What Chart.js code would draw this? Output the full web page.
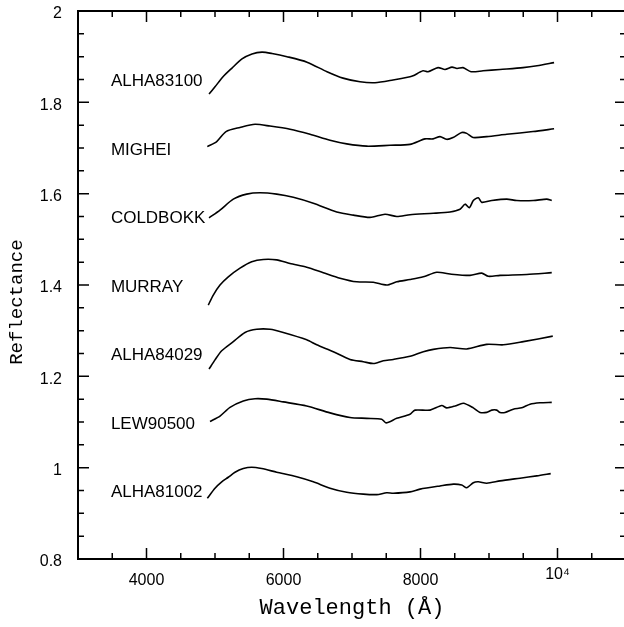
<!DOCTYPE html>
<html>
<head>
<meta charset="utf-8">
<script src="https://cdn.jsdelivr.net/npm/chart.js@4.4.0/dist/chart.umd.min.js"></script>
<style>
    html, body { margin: 0; padding: 0; overflow: hidden; background: #fff; }
    canvas { display: block; }
</style>
</head>
<body>
<canvas id="spectra" width="630" height="627"></canvas>
<script>
// --- DATA ---
const meteorites = ['ALHA83100', 'MIGHEI', 'COLDBOKK', 'MURRAY', 'ALHA84029', 'LEW90500', 'ALHA81002'];
const labelRefl = [1.845, 1.695, 1.545, 1.395, 1.245, 1.095, 0.945];

const alha83100Wave = [4913, 5000, 5117, 5248, 5394, 5540, 5686, 5832, 6051, 6343, 6635, 6869, 7117, 7336, 7599, 7847, 7891, 8037, 8110, 8256, 8358, 8460, 8533, 8621, 8738, 8913, 9161, 9497, 9701, 9950];
const alha83100Refl = [1.818, 1.834, 1.856, 1.875, 1.895, 1.906, 1.910, 1.907, 1.900, 1.888, 1.867, 1.853, 1.845, 1.843, 1.849, 1.856, 1.858, 1.869, 1.867, 1.876, 1.872, 1.877, 1.874, 1.876, 1.867, 1.869, 1.872, 1.876, 1.880, 1.887];

const migheiWave = [4888, 5025, 5161, 5365, 5584, 5803, 6095, 6387, 6679, 6923, 7215, 7555, 7847, 8066, 8183, 8285, 8383, 8475, 8602, 8675, 8767, 8967, 9259, 9643, 9950];
const migheiRefl = [1.703, 1.714, 1.736, 1.745, 1.752, 1.748, 1.741, 1.730, 1.717, 1.709, 1.704, 1.706, 1.708, 1.720, 1.720, 1.725, 1.719, 1.723, 1.734, 1.732, 1.723, 1.725, 1.730, 1.736, 1.742];

const coldbokkWave = [4913, 5073, 5267, 5463, 5657, 5901, 6143, 6435, 6777, 7019, 7263, 7482, 7653, 7847, 8187, 8431, 8577, 8650, 8713, 8771, 8844, 8894, 9040, 9259, 9405, 9647, 9843, 9916];
const coldbokkRefl = [1.547, 1.564, 1.588, 1.599, 1.602, 1.599, 1.592, 1.579, 1.560, 1.553, 1.548, 1.555, 1.550, 1.554, 1.557, 1.560, 1.566, 1.577, 1.569, 1.585, 1.591, 1.581, 1.585, 1.588, 1.585, 1.585, 1.588, 1.585];

const murrayWave = [4902, 4975, 5073, 5194, 5365, 5536, 5705, 5901, 6095, 6339, 6581, 6825, 7069, 7311, 7507, 7653, 7847, 8041, 8237, 8431, 8723, 8894, 8990, 9161, 9551, 9916];
const murrayRefl = [1.356, 1.378, 1.400, 1.418, 1.437, 1.451, 1.456, 1.455, 1.447, 1.439, 1.427, 1.415, 1.407, 1.406, 1.400, 1.407, 1.412, 1.418, 1.428, 1.424, 1.421, 1.426, 1.419, 1.421, 1.423, 1.427];

const alha84029Wave = [4913, 5000, 5098, 5267, 5438, 5609, 5803, 5997, 6339, 6485, 6727, 6971, 7165, 7311, 7457, 7603, 7847, 8041, 8187, 8431, 8675, 8967, 9209, 9501, 9931];
const alha84029Refl = [1.216, 1.236, 1.256, 1.276, 1.296, 1.303, 1.303, 1.296, 1.280, 1.269, 1.254, 1.237, 1.232, 1.228, 1.234, 1.237, 1.244, 1.254, 1.259, 1.263, 1.260, 1.270, 1.269, 1.276, 1.288];

const lew90500Wave = [4927, 5073, 5219, 5413, 5584, 5755, 5997, 6339, 6679, 6971, 7215, 7434, 7497, 7653, 7847, 7920, 8139, 8310, 8383, 8504, 8625, 8771, 8869, 8967, 9040, 9113, 9161, 9234, 9355, 9478, 9599, 9745, 9916];
const lew90500Refl = [1.101, 1.113, 1.132, 1.146, 1.151, 1.150, 1.144, 1.135, 1.120, 1.110, 1.108, 1.106, 1.098, 1.108, 1.117, 1.126, 1.126, 1.136, 1.131, 1.135, 1.141, 1.131, 1.121, 1.121, 1.126, 1.126, 1.121, 1.121, 1.128, 1.131, 1.139, 1.142, 1.143];

const alha81002Wave = [4888, 5000, 5098, 5194, 5292, 5413, 5536, 5682, 5901, 6193, 6435, 6679, 6923, 7165, 7361, 7507, 7603, 7847, 7993, 8285, 8479, 8602, 8675, 8771, 8844, 8967, 9161, 9453, 9697, 9901];
const alha81002Refl = [0.933, 0.955, 0.969, 0.979, 0.990, 0.998, 1.001, 0.998, 0.990, 0.980, 0.969, 0.955, 0.946, 0.942, 0.941, 0.945, 0.944, 0.947, 0.953, 0.960, 0.964, 0.962, 0.956, 0.967, 0.969, 0.966, 0.971, 0.977, 0.982, 0.987];

const xTickValues = [4000, 6000, 8000, 10000];
const yTickValues = [0.8, 1, 1.2, 1.4, 1.6, 1.8, 2];

const seriesWave = [alha83100Wave, migheiWave, coldbokkWave, murrayWave, alha84029Wave, lew90500Wave, alha81002Wave];
const seriesRefl = [alha83100Refl, migheiRefl, coldbokkRefl, murrayRefl, alha84029Refl, lew90500Refl, alha81002Refl];

// --- PLUGIN: frame, inward ticks on all four sides, curve names ---
const frameAndLabels = {
    id: 'frameAndLabels',
    afterDraw(chart) {
        const { ctx, chartArea: a, scales: { x, y } } = chart;
        ctx.save();
        ctx.strokeStyle = '#000';

        // ticks
        ctx.lineWidth = 1.5;
        ctx.beginPath();
        for (let v = 3500; v < 11000; v += 500) {
            const px = x.getPixelForValue(v);
            const len = v % 2000 === 0 ? 11 : 6;
            ctx.moveTo(px, a.bottom); ctx.lineTo(px, a.bottom - len);
            ctx.moveTo(px, a.top); ctx.lineTo(px, a.top + len);
        }
        for (let i = 1; i < 24; i++) {
            const v = 0.8 + i * 0.05;
            const py = y.getPixelForValue(v);
            const len = i % 4 === 0 ? 11 : 6;
            ctx.moveTo(a.left, py); ctx.lineTo(a.left + len, py);
            ctx.moveTo(a.right, py); ctx.lineTo(a.right - len, py);
        }
        ctx.stroke();

        // frame
        ctx.lineWidth = 2;
        ctx.strokeRect(a.left, a.top, a.right - a.left, a.bottom - a.top);

        // curve names
        ctx.fillStyle = '#000';
        ctx.font = '17px "Liberation Sans", Arial, sans-serif';
        ctx.textAlign = 'left';
        ctx.textBaseline = 'middle';
        meteorites.forEach((name, i) => {
            ctx.fillText(name, x.getPixelForValue(3480), y.getPixelForValue(labelRefl[i]));
        });
        ctx.restore();
    }
};

const tickFont = '"Liberation Sans", Arial, sans-serif';
const titleFont = '"Liberation Mono", "Courier New", monospace';

new Chart(document.getElementById('spectra'), {
    type: 'line',
    data: {
        datasets: meteorites.map((name, i) => ({
            label: name,
            data: seriesWave[i].map((w, j) => ({ x: w, y: seriesRefl[i][j] })),
            borderColor: '#000',
            borderWidth: 1.6,
            pointRadius: 0,
            tension: 0.25,
            fill: false
        }))
    },
    options: {
        responsive: false,
        animation: false,
        layout: { padding: { top: 11, right: 4, left: 0, bottom: 0 } },
        plugins: { legend: { display: false }, tooltip: { enabled: false } },
        scales: {
            x: {
                type: 'linear',
                min: 3000,
                max: 11000,
                afterBuildTicks: s => { s.ticks = xTickValues.map(v => ({ value: v })); },
                afterFit: s => { s.height = 68; s.paddingLeft = 0; s.paddingRight = 0; },
                grid: { display: false, drawTicks: false },
                border: { display: false },
                ticks: {
                    color: '#000',
                    padding: 12,
                    maxRotation: 0,
                    font: c => ({ family: tickFont, size: 16, lineHeight: (c.tick && c.tick.value === 10000) ? 0.5 : 1.2 }),
                    callback: v => v === 10000 ? '10\u2074' : String(v)
                },
                title: {
                    display: true,
                    text: 'Wavelength (\u00c5)',
                    color: '#000',
                    font: { family: titleFont, size: 22 },
                    padding: { top: 0, bottom: 6 }
                }
            },
            y: {
                type: 'linear',
                min: 0.8,
                max: 2,
                afterBuildTicks: s => { s.ticks = yTickValues.map(v => ({ value: v })); },
                afterFit: s => { s.width = 78; s.paddingTop = 0; s.paddingBottom = 0; },
                grid: { display: false, drawTicks: false },
                border: { display: false },
                ticks: {
                    color: '#000',
                    padding: 16,
                    labelOffset: 3,
                    font: { family: tickFont, size: 16 },
                    callback: v => String(Math.round(v * 10) / 10)
                },
                title: {
                    display: true,
                    text: 'Reflectance   ',
                    color: '#000',
                    font: { family: titleFont, size: 19 },
                    padding: { top: 6, bottom: 0 }
                }
            }
        }
    },
    plugins: [frameAndLabels]
});
</script>
</body>
</html>
